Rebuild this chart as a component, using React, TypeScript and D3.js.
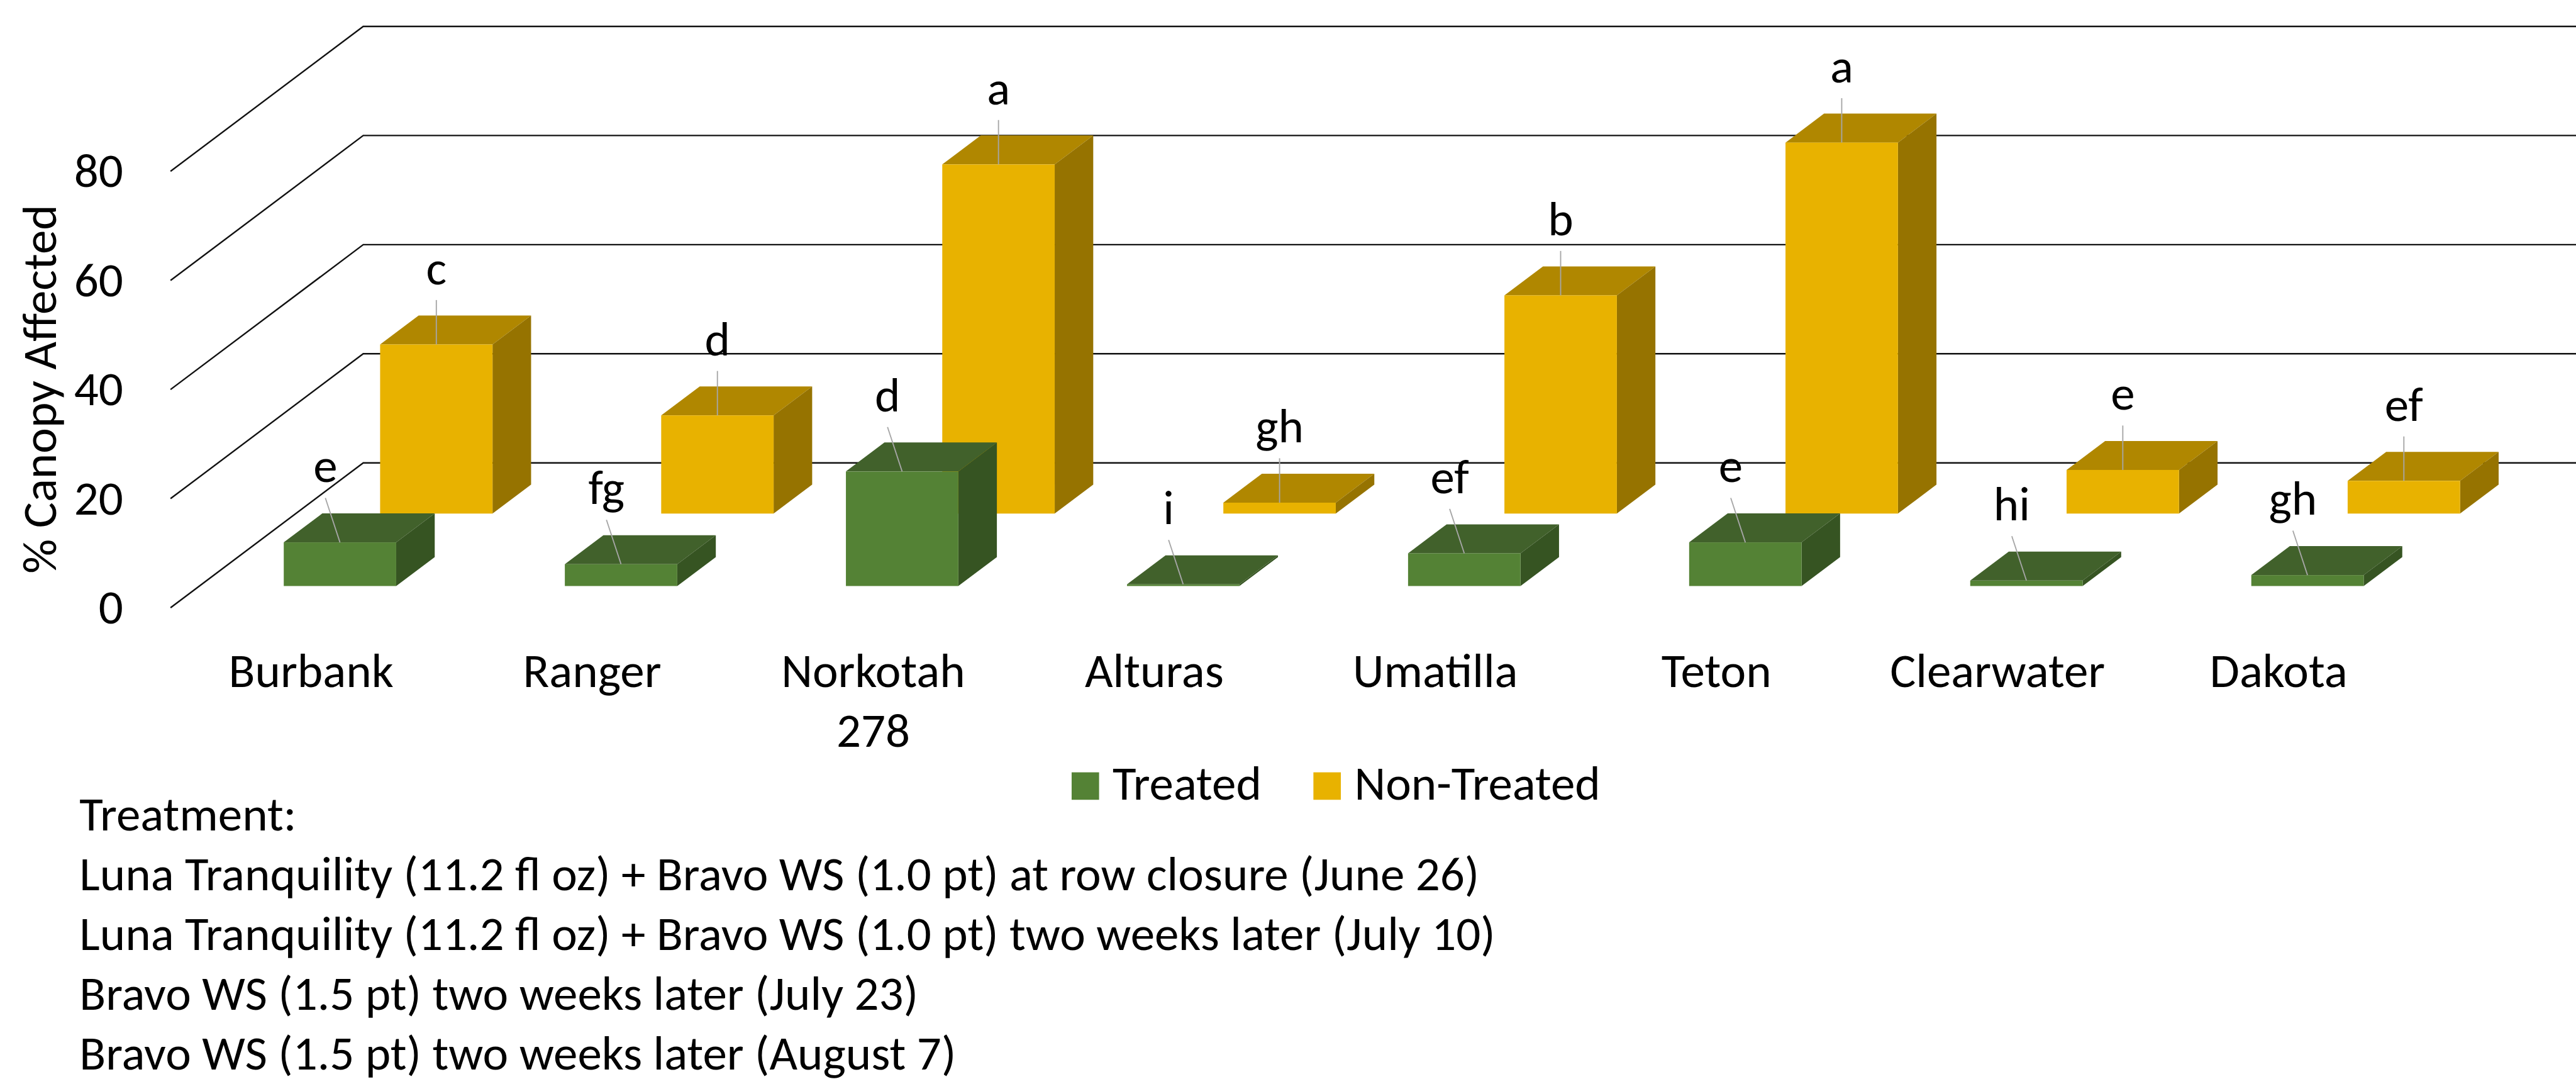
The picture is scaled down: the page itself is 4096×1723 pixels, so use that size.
import React, { useEffect, useRef } from 'react';
import * as d3 from 'd3';

const categories = ['Burbank', 'Ranger', 'Norkotah 278', 'Alturas', 'Umatilla', 'Teton', 'Clearwater', 'Dakota'];
const seriesNames = ['Treated', 'Non-Treated'];
const treated = [8, 4, 21, 0.3, 6, 8, 1, 2];
const nonTreated = [31, 18, 64, 2, 40, 68, 8, 6];
const treatedLetters = ['e', 'fg', 'd', 'i', 'ef', 'e', 'hi', 'gh'];
const nonTreatedLetters = ['c', 'd', 'a', 'gh', 'b', 'a', 'e', 'ef'];
const yTicks = [0, 20, 40, 60, 80];
const notes = [
  'Treatment:',
  'Luna Tranquility (11.2 fl oz) + Bravo WS (1.0 pt) at row closure (June 26)',
  'Luna Tranquility (11.2 fl oz) + Bravo WS (1.0 pt) two weeks later (July 10)',
  'Bravo WS (1.5 pt) two weeks later (July 23)',
  'Bravo WS (1.5 pt) two weeks later (August 7)',
];

export default function App() {
  const svgRef = useRef(null);

  useEffect(() => {
    const k = 4096 / 4411;
    const svg = d3.select(svgRef.current);
    svg.selectAll('*').remove();
    // everything below is laid out in the reference's pixel units, then scaled
    const g = svg.append('g').attr('transform', `scale(${k})`);
    const font = 'Carlito, Calibri, Lato, sans-serif';
    const fs = 83;

    // 3D floor geometry
    const x0 = 292;
    const floorW = 8 * 481.3;
    const depthX = 330;
    const depthY = 248;
    const x = d3.scaleBand().domain(categories).range([0, floorW]).paddingInner(0.6).paddingOuter(0.3);
    const z = d3.scaleBand().domain(seriesNames).range([0, 1]).paddingInner(0.6).paddingOuter(0.3);
    const y = d3.scaleLinear().domain([0, 80]).range([1040.3, 293.2]);
    const proj = (px, v, d) => [x0 + px + d * depthX, y(v) - d * depthY];
    const line = d3.line();

    // side wall + back wall gridlines
    yTicks.forEach(t => {
      g.append('path')
        .attr('d', line([proj(0, t, 0), proj(0, t, 1), proj(floorW + 400, t, 1)]))
        .attr('fill', 'none')
        .attr('stroke', '#111')
        .attr('stroke-width', 2.6);
    });

    // y tick labels
    g.append('g').selectAll('text')
      .data(yTicks)
      .join('text')
        .attr('x', 211)
        .attr('y', d => y(d) + 27)
        .attr('text-anchor', 'end')
        .attr('font-family', font)
        .attr('font-size', fs)
        .text(d => d);

    // axis title
    g.append('text')
      .attr('transform', 'translate(96,666) rotate(-90)')
      .attr('text-anchor', 'middle')
      .attr('font-family', font)
      .attr('font-size', fs)
      .text('% Canopy Affected');

    const series = [
      { name: 'Non-Treated', values: nonTreated, letters: nonTreatedLetters, front: '#E8B200', top: '#B08700', side: '#967300', dx: 0 },
      { name: 'Treated', values: treated, letters: treatedLetters, front: '#548235', top: '#41612B', side: '#365422', dx: -25 },
    ];
    const bw = x.bandwidth();
    const dd = z.bandwidth();

    // bars, back row first
    series.forEach(s => {
      const d0 = z(s.name);
      const bars = g.append('g');
      categories.forEach((c, i) => {
        const v = s.values[i];
        const xb = x(c);
        const ft = proj(xb, v, d0);
        const fb = proj(xb + bw, 0, d0);
        bars.append('path')
          .attr('d', line([proj(xb, v, d0), proj(xb + bw, v, d0), proj(xb + bw, v, d0 + dd), proj(xb, v, d0 + dd)]) + 'Z')
          .attr('fill', s.top);
        bars.append('path')
          .attr('d', line([proj(xb + bw, v, d0), proj(xb + bw, v, d0 + dd), proj(xb + bw, 0, d0 + dd), proj(xb + bw, 0, d0)]) + 'Z')
          .attr('fill', s.side);
        bars.append('rect')
          .attr('x', ft[0])
          .attr('y', ft[1])
          .attr('width', fb[0] - ft[0])
          .attr('height', Math.max(fb[1] - ft[1], 1.5))
          .attr('fill', s.front);
      });
    });

    // data labels with leader lines
    series.forEach(s => {
      const d0 = z(s.name);
      categories.forEach((c, i) => {
        const [cx, ty] = proj(x(c) + bw / 2, s.values[i], d0);
        const lx = cx + s.dx;
        const base = ty - 103;
        g.append('line')
          .attr('x1', lx).attr('y1', base + 27)
          .attr('x2', cx).attr('y2', ty)
          .attr('stroke', '#A6A6A6')
          .attr('stroke-width', 2);
        g.append('text')
          .attr('x', lx)
          .attr('y', base)
          .attr('text-anchor', 'middle')
          .attr('font-family', font)
          .attr('font-size', fs)
          .text(s.letters[i]);
      });
    });

    // category labels on the front edge
    categories.forEach(c => {
      const t = g.append('text')
        .attr('x', x0 + x(c) + bw / 2)
        .attr('y', 1176)
        .attr('text-anchor', 'middle')
        .attr('font-family', font)
        .attr('font-size', fs);
      c.split(' ').forEach((w, j) => {
        t.append('tspan').attr('x', x0 + x(c) + bw / 2).attr('dy', j === 0 ? 0 : 102).text(w);
      });
    });

    // legend
    const legend = g.append('g');
    [
      { name: 'Treated', color: '#548235', x: 1835 },
      { name: 'Non-Treated', color: '#E8B200', x: 2249 },
    ].forEach(l => {
      legend.append('rect').attr('x', l.x).attr('y', 1322).attr('width', 47).attr('height', 47).attr('fill', l.color);
      legend.append('text')
        .attr('x', l.x + 70)
        .attr('y', 1369)
        .attr('font-family', font)
        .attr('font-size', fs)
        .text(l.name);
    });

    // treatment notes
    g.append('g').selectAll('text')
      .data(notes)
      .join('text')
        .attr('x', 136)
        .attr('y', (d, i) => 1421.5 + i * 102.4)
        .attr('font-family', font)
        .attr('font-size', fs)
        .text(d => d);
  }, []);

  return (
    <svg
      ref={svgRef}
      width={4096}
      height={1723}
      style={{ position: 'absolute', left: 0, top: 0, display: 'block', background: '#fff' }}
    />
  );
}
